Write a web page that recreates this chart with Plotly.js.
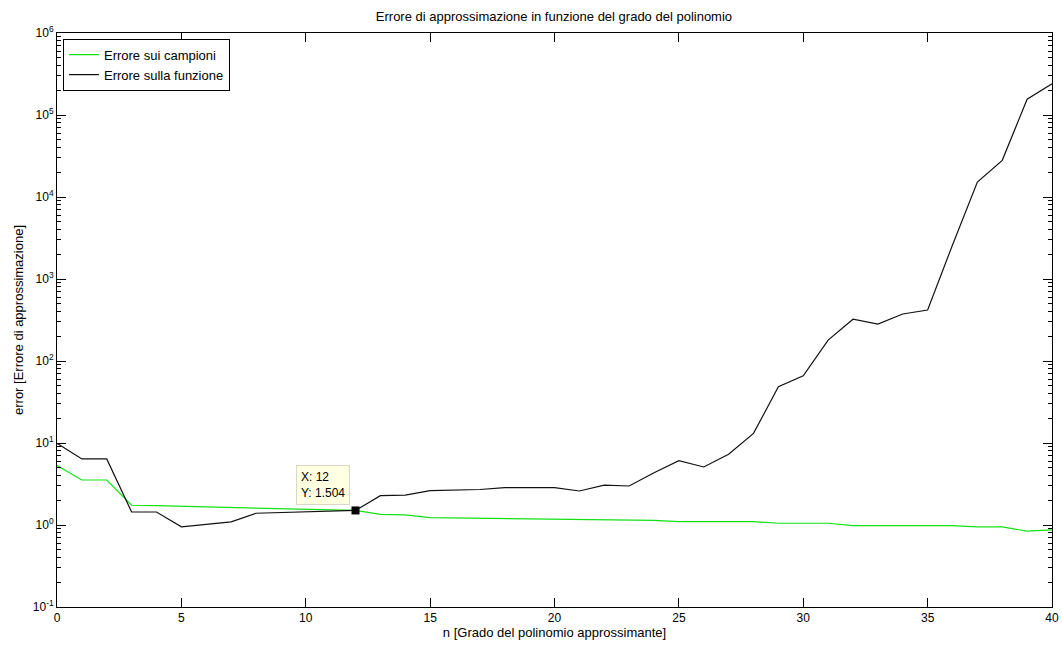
<!DOCTYPE html>
<html>
<head>
<meta charset="utf-8">
<script src="https://cdn.plot.ly/plotly-3.0.1.min.js"></script>
<style>
  html, body { margin: 0; padding: 0; background: #ffffff; }
  #chart { width: 1062px; height: 645px; }
</style>
</head>
<body>
<div id="chart"></div>
<script>
// Polynomial degree n
const degree = [0,1,2,3,4,5,6,7,8,9,10,11,12,13,14,15,16,17,18,19,20,
                21,22,23,24,25,26,27,28,29,30,31,32,33,34,35,36,37,38,39,40];

// Error on the samples
const errSamples = [5.3,3.54,3.54,1.74,1.72,1.69,1.66,1.63,1.60,1.58,1.56,1.53,1.504,
                    1.35,1.33,1.23,1.22,1.21,1.20,1.20,1.20,1.19,1.16,1.15,1.14,
                    1.10,1.10,1.10,1.10,1.05,1.05,1.05,0.98,0.98,0.98,0.98,0.98,
                    0.95,0.95,0.84,0.87];

// Error on the function
const errFunction = [9.9,6.4,6.4,1.44,1.44,0.95,1.02,1.09,1.39,1.42,1.45,1.48,1.504,
                     2.28,2.32,2.62,2.67,2.71,2.85,2.85,2.85,2.60,3.07,2.99,4.34,
                     6.1,5.1,7.3,13.1,48.6,66,180,323,282,374,418,2600,15200,28000,
                     156000,240000];

// Highlighted data tip
const tipX = 12;
const tipY = 1.504;

// Decade tick labels
const decadeVals = [1e-1,1e0,1e1,1e2,1e3,1e4,1e5,1e6];
const decadeText = ['10<sup>-1</sup>','10<sup>0</sup>','10<sup>1</sup>','10<sup>2</sup>',
                    '10<sup>3</sup>','10<sup>4</sup>','10<sup>5</sup>','10<sup>6</sup>'];

// Minor tick positions 2..9 within each decade
const minorVals = [];
for (let k = -1; k <= 5; k++) {
  for (let m = 2; m <= 9; m++) minorVals.push(m * Math.pow(10, k));
}

const fam = 'Liberation Sans, Arial, sans-serif';
const labelFont = { family: fam, size: 13, color: '#000' };
const tickFont = { family: fam, size: 12, color: '#000' };

const traces = [
  {
    x: degree, y: errSamples, type: 'scatter', mode: 'lines',
    name: 'Errore sui campioni',
    line: { color: 'rgb(20,225,20)', width: 1.2 }
  },
  {
    x: degree, y: errFunction, type: 'scatter', mode: 'lines',
    name: 'Errore sulla funzione',
    line: { color: '#111', width: 1.2 }
  },
  {
    x: [tipX], y: [tipY], type: 'scatter', mode: 'markers',
    showlegend: false, hoverinfo: 'skip',
    marker: { symbol: 'square', size: 8, color: '#000' }
  }
];

const layout = {
  width: 1062, height: 645,
  margin: { l: 57, r: 10, t: 33, b: 38 },
  paper_bgcolor: '#fff', plot_bgcolor: '#fff',
  font: tickFont,
  showlegend: true,
  title: {
    text: 'Errore di approssimazione in funzione del grado del polinomio',
    font: labelFont,
    x: 0.5216, xanchor: 'center', y: 0.975, yanchor: 'middle'
  },
  xaxis: {
    range: [0, 40],
    tickmode: 'array', tickvals: [0,5,10,15,20,25,30,35,40],
    ticks: 'inside', ticklen: 9, tickcolor: '#000', tickwidth: 1,
    showline: true, linecolor: '#000', linewidth: 1, mirror: 'ticks',
    showgrid: false, zeroline: false,
    tickfont: tickFont,
    title: { text: 'n [Grado del polinomio approssimante]', font: labelFont, standoff: 0 }
  },
  yaxis: {
    type: 'log', range: [-1, 6],
    tickmode: 'array', tickvals: decadeVals, ticktext: decadeText,
    ticks: 'inside', ticklen: 9, tickcolor: '#000', tickwidth: 1,
    minor: { tickmode: 'array', tickvals: minorVals, ticks: 'inside', ticklen: 4,
             tickcolor: '#000', tickwidth: 1, showgrid: false },
    showline: true, linecolor: '#000', linewidth: 1, mirror: 'ticks',
    showgrid: false, zeroline: false,
    tickfont: tickFont,
    title: { text: 'error [Errore di approssimazione]', font: labelFont, standoff: 6 }
  },
  legend: {
    x: 0.006, y: 0.99, xanchor: 'left', yanchor: 'top',
    bgcolor: '#fff', bordercolor: '#000', borderwidth: 1,
    font: labelFont,
    tracegroupgap: 0, itemwidth: 30
  },
  annotations: [
    {
      x: tipX, y: Math.log10(tipY), xref: 'x', yref: 'y',
      text: 'X: ' + tipX + '<br>Y: ' + tipY,
      showarrow: false, align: 'left',
      xanchor: 'right', yanchor: 'bottom', xshift: -6, yshift: 5,
      bgcolor: '#ffffe1', bordercolor: '#d8d8c8', borderwidth: 1, borderpad: 4,
      font: { family: fam, size: 12, color: '#000' }
    }
  ]
};

Plotly.newPlot('chart', traces, layout, { displayModeBar: false, staticPlot: true });
</script>
</body>
</html>
